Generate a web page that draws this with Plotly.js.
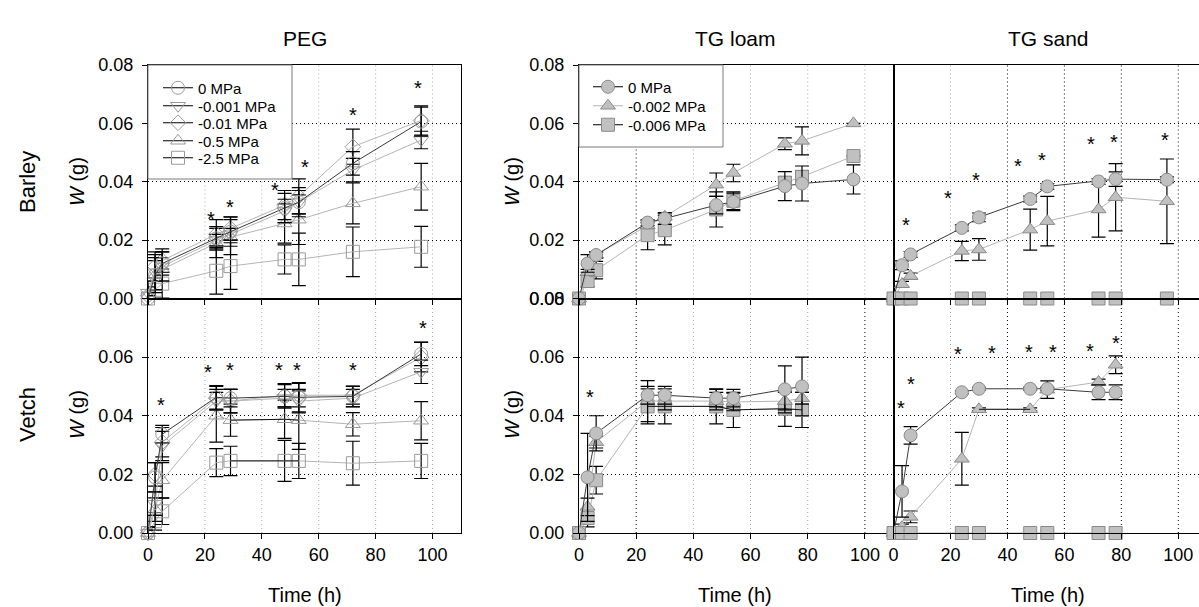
<!DOCTYPE html>
<html><head><meta charset="utf-8">
<script src="https://cdn.plot.ly/plotly-3.0.1.min.js"></script>
<style>html,body{margin:0;padding:0;background:#fff}#chart{width:1199px;height:607px}</style>
</head><body><div id="chart"></div>
<script>
// ---------- DATA ----------
const timePEG = [0, 2.5, 5, 24, 29, 48, 53, 72, 96];
const timeTG = [0, 3, 6, 24, 30, 48, 54, 72, 78, 96];
const timeTGv = [0, 3, 6, 24, 30, 48, 54, 72, 78];

const pegLabels = ['0 MPa', '-0.001 MPa', '-0.01 MPa', '-0.5 MPa', '-2.5 MPa'];
const tgLabels = ['0 MPa', '-0.002 MPa', '-0.006 MPa'];
const xTickVals = [0, 20, 40, 60, 80, 100];
const yTickVals = [0, 0.02, 0.04, 0.06, 0.08];
const yTickValsPEGv = [0, 0.02, 0.04, 0.06];

// PEG – Barley
const pegB0 = [0, 0.008, 0.012, 0.0206, 0.0229, 0.031, 0.033, 0.0463, 0.0606];
const pegB0e = [0.001, 0.006, 0.004, 0.004, 0.005, 0.005, 0.005, 0.004, 0.005];
const pegB001 = [0.002, 0.009, 0.011, 0.020, 0.022, 0.030, 0.033, 0.044, 0.0543];
const pegB001e = [0.004, 0.006, 0.005, 0.002, 0.002, 0.004, 0.004, 0.004, 0.003];
const pegB01 = [0.001, 0.011, 0.013, 0.022, 0.024, 0.032, 0.035, 0.052, 0.061];
const pegB01e = [0.002, 0.005, 0.004, 0.005, 0.004, 0.005, 0.006, 0.006, 0.005];
const pegB05 = [0.001, 0.008, 0.010, 0.019, 0.021, 0.0257, 0.027, 0.0326, 0.0383];
const pegB05e = [0.003, 0.005, 0.004, 0.005, 0.006, 0.0067, 0.0085, 0.007, 0.008];
const pegB25 = [0, 0.003, 0.0051, 0.0095, 0.0111, 0.0134, 0.0134, 0.016, 0.0177];
const pegB25e = [0.002, 0.004, 0.005, 0.008, 0.008, 0.005, 0.009, 0.0085, 0.007];
const pegBStarX = [22, 28.7, 44.7, 55, 72, 95];
const pegBStarY = [0.0291, 0.0331, 0.0389, 0.0469, 0.0646, 0.0737];

// PEG – Vetch
const pegV0 = [0, 0.019, 0.0337, 0.0463, 0.046, 0.0466, 0.0463, 0.0466, 0.0611];
const pegV0e = [0.001, 0.005, 0.003, 0.004, 0.003, 0.004, 0.005, 0.0035, 0.004];
const pegV001 = [0, 0.010, 0.0297, 0.045, 0.045, 0.046, 0.045, 0.046, 0.055];
const pegV001e = [0.002, 0.004, 0.005, 0.003, 0.004, 0.003, 0.004, 0.003, 0.004];
const pegV01 = [0, 0.020, 0.031, 0.046, 0.045, 0.047, 0.047, 0.047, 0.060];
const pegV01e = [0.002, 0.004, 0.005, 0.004, 0.004, 0.004, 0.004, 0.003, 0.005];
const pegV05 = [0, 0.008, 0.018, 0.040, 0.0385, 0.0388, 0.0385, 0.0371, 0.0383];
const pegV05e = [0.002, 0.004, 0.006, 0.009, 0.0055, 0.0065, 0.010, 0.004, 0.0065];
const pegV25 = [0, 0.004, 0.0074, 0.024, 0.0246, 0.0246, 0.0246, 0.0238, 0.0246];
const pegV25e = [0.001, 0.003, 0.0045, 0.0048, 0.005, 0.007, 0.006, 0.0075, 0.006];
const pegVStarX = [4.4, 21, 28.7, 46.2, 52.3, 72.2, 96.5];
const pegVStarY = [0.0454, 0.0566, 0.0574, 0.0574, 0.0574, 0.0574, 0.0717];

// TG loam – Barley
const loamB0 = [0, 0.012, 0.0149, 0.026, 0.0274, 0.032, 0.0331, 0.0385, 0.0394, 0.0408];
const loamB0e = [0, 0.003, 0.001, 0.001, 0.002, 0.003, 0.003, 0.005, 0.006, 0.005];
const loamB2 = [0, 0.009, 0.015, 0.025, 0.028, 0.039, 0.043, 0.053, 0.054, 0.060];
const loamB2e = [0, 0.001, 0.001, 0.001, 0.001, 0.004, 0.003, 0.002, 0.0048, 0];
const loamB6 = [0, 0.006, 0.0097, 0.0217, 0.0234, 0.0305, 0.0335, 0.0397, 0.0417, 0.0488];
const loamB6e = [0, 0.002, 0.003, 0.005, 0.005, 0.006, 0.003, 0.002, 0.002, 0];

// TG loam – Vetch
const loamV0 = [0, 0.019, 0.034, 0.047, 0.047, 0.046, 0.046, 0.049, 0.050];
const loamV0e = [0, 0.015, 0.006, 0.003, 0.003, 0.003, 0.003, 0.008, 0.010];
const loamV2 = [0, 0.0089, 0.031, 0.045, 0.045, 0.045, 0.0447, 0.045, 0.046];
const loamV2e = [0, 0.003, 0.002, 0.007, 0.003, 0.003, 0.003, 0.003, 0.002];
const loamV6 = [0, 0.0051, 0.018, 0.0432, 0.0432, 0.0432, 0.042, 0.0424, 0.042];
const loamV6e = [0, 0.003, 0.0047, 0.006, 0.006, 0.006, 0.006, 0.006, 0.006];
const loamVStarX = [4];
const loamVStarY = [0.048];

// TG sand – Barley
const sandB0 = [0, 0.0114, 0.0151, 0.0242, 0.0278, 0.0341, 0.0384, 0.0401, 0.0409, 0.0407];
const sandB0e = [0, 0.0015, 0.001, 0.001, 0.0015, 0.001, 0.001, 0.001, 0.0025, 0.001];
const sandB2 = [0, 0.0049, 0.0077, 0.0163, 0.0168, 0.0236, 0.0265, 0.0305, 0.0347, 0.0333];
const sandB2e = [0, 0.001, 0.001, 0.0033, 0.0037, 0.007, 0.0085, 0.0095, 0.0115, 0.0145];
const sandB6 = [0, 0, 0, 0, 0, 0, 0, 0, 0, 0];
const sandBStarX = [4.4, 19, 29, 43.6, 52.3, 69.2, 77.3, 95.3];
const sandBStarY = [0.0268, 0.0361, 0.0422, 0.047, 0.0492, 0.0545, 0.0555, 0.056];

// TG sand – Vetch
const sandV0 = [0, 0.0142, 0.0333, 0.048, 0.0492, 0.0492, 0.0492, 0.048, 0.048];
const sandV0e = [0, 0.0088, 0.003, 0.0005, 0.0005, 0.0005, 0.0005, 0.0025, 0.0025];
const sandV2 = [0, 0.002, 0.0055, 0.0253, 0.0422, 0.0422, 0.0489, 0.0515, 0.0574];
const sandV2e = [0, 0.001, 0.002, 0.009, 0.0005, 0.0005, 0.003, 0.001, 0.003];
const sandV6 = [0, 0, 0, 0, 0, 0, 0, 0, 0];
const sandVStarX = [2.6, 6.1, 22.6, 34.6, 47.7, 55.9, 69.1, 78];
const sandVStarY = [0.0443, 0.0524, 0.0628, 0.063, 0.0634, 0.0634, 0.0637, 0.0665];

// ---------- STYLE / LAYOUT ----------
const W = 1199, H = 607;
const fx = p => p / W, fy = p => 1 - p / H;
const FONT = 'Liberation Sans, Arial, sans-serif';
const DARK = '#3a3a3a', LIGHT = '#b4b4b4', MK = '#9a9a9a', FILL = '#c0c0c0', MKL = '#8a8a8a';

const domPEG = [fx(148), fx(461)];
const domLoam = [fx(579), fx(893.5)];
const domSand = [fx(893.5), 1];
const domTop = [fy(298.5), fy(65)];
const domBot = [fy(533), fy(298.5)];
const sandMax = (1199 - 893.5) / 2.848;

const traces = [];
function err(e) { return {type: 'data', array: e, visible: true, color: '#000', thickness: 1.2, width: 7}; }
function openSeries(x, y, e, ax, sym, lc, size) {
  traces.push({x, y, xaxis: 'x' + ax, yaxis: 'y' + ax, mode: 'lines+markers', showlegend: false, cliponaxis: false,
    line: {color: lc, width: 1}, marker: {symbol: sym + '-open', size: size || 13, color: MK, line: {width: 1, color: MK}},
    error_y: err(e)});
}
function filledSeries(x, y, e, ax, sym, lc) {
  traces.push({x, y, xaxis: 'x' + ax, yaxis: 'y' + ax, mode: 'lines+markers', showlegend: false, cliponaxis: false,
    line: {color: lc, width: 1}, marker: {symbol: sym, size: 13, color: FILL, line: {width: 1, color: MKL}},
    error_y: e ? err(e) : undefined});
}
function segment(x, y, ax, a, b) {
  traces.push({x: x.slice(a, b), y: y.slice(a, b), xaxis: 'x' + ax, yaxis: 'y' + ax, mode: 'lines', showlegend: false,
    line: {color: '#111', width: 1}, hoverinfo: 'skip'});
}

// PEG barley (axis '' -> x/y)
openSeries(timePEG, pegB25, pegB25e, '', 'square', LIGHT);
openSeries(timePEG, pegB05, pegB05e, '', 'triangle-up', LIGHT);
openSeries(timePEG, pegB01, pegB01e, '', 'diamond', LIGHT, 12);
openSeries(timePEG, pegB001, pegB001e, '', 'triangle-down', LIGHT);
openSeries(timePEG, pegB0, pegB0e, '', 'circle', DARK);
// PEG vetch
openSeries(timePEG, pegV25, pegV25e, '2', 'square', LIGHT);
openSeries(timePEG, pegV05, pegV05e, '2', 'triangle-up', LIGHT);
openSeries(timePEG, pegV01, pegV01e, '2', 'diamond', LIGHT, 12);
openSeries(timePEG, pegV001, pegV001e, '2', 'triangle-down', LIGHT);
openSeries(timePEG, pegV0, pegV0e, '2', 'circle', DARK);
segment(timePEG, pegV05, '2', 4, 7);
segment(timePEG, pegV25, '2', 4, 7);
// loam barley
filledSeries(timeTG, loamB6, loamB6e, '3', 'square', LIGHT);
filledSeries(timeTG, loamB2, loamB2e, '3', 'triangle-up', LIGHT);
filledSeries(timeTG, loamB0, loamB0e, '3', 'circle', DARK);
// loam vetch
filledSeries(timeTGv, loamV6, loamV6e, '4', 'square', LIGHT);
segment(timeTGv, loamV6, '4', 3, 9);
filledSeries(timeTGv, loamV2, loamV2e, '4', 'triangle-up', LIGHT);
filledSeries(timeTGv, loamV0, loamV0e, '4', 'circle', DARK);
// sand barley
filledSeries(timeTG, sandB2, sandB2e, '5', 'triangle-up', LIGHT);
filledSeries(timeTG, sandB0, sandB0e, '5', 'circle', DARK);
filledSeries(timeTG, sandB6, null, '5', 'square', LIGHT);
// sand vetch
filledSeries(timeTGv, sandV2, sandV2e, '6', 'triangle-up', LIGHT);
segment(timeTGv, sandV2, '6', 4, 6);
filledSeries(timeTGv, sandV0, sandV0e, '6', 'circle', DARK);
filledSeries(timeTGv, sandV6, null, '6', 'square', LIGHT);

// legend entries: one small legend per row so rows can sit at the reference spacing
const legendLayouts = {};
const legendCommon = {xanchor: 'left', yanchor: 'middle', bgcolor: 'rgba(0,0,0,0)', borderwidth: 0,
  font: {size: 15, color: '#000', family: FONT}, itemwidth: 30, tracegroupgap: 0};
const pegSyms = ['circle-open', 'triangle-down-open', 'diamond-open', 'triangle-up-open', 'square-open'];
const pegRowY = [88, 106, 123, 141, 158];
let legN = 1;
function legendName() { const n = legN === 1 ? 'legend' : 'legend' + legN; legN++; return n; }
pegLabels.forEach((n, i) => {
  const lg = legendName();
  legendLayouts[lg] = Object.assign({x: fx(158), y: fy(pegRowY[i])}, legendCommon);
  traces.push({x: [null], y: [null], name: n, legend: lg, mode: 'lines+markers',
    line: {color: '#000', width: 1}, marker: {symbol: pegSyms[i], size: i === 2 ? 12 : 13, color: MK, line: {width: 1, color: MK}}});
});
const tgSyms = ['circle', 'triangle-up', 'square'];
const tgLine = ['#000', LIGHT, '#000'];
const tgRowY = [87, 106, 125];
tgLabels.forEach((n, i) => {
  const lg = legendName();
  legendLayouts[lg] = Object.assign({x: fx(588), y: fy(tgRowY[i])}, legendCommon);
  traces.push({x: [null], y: [null], name: n, legend: lg, mode: 'lines+markers',
    line: {color: tgLine[i], width: 1}, marker: {symbol: tgSyms[i], size: 13, color: FILL, line: {width: 1, color: MKL}}});
});

function xax(domain, range, anchor, labels) {
  return {domain, range, anchor, showline: true, linecolor: '#000', linewidth: 1, mirror: true,
    ticks: 'outside', ticklen: 5, tickcolor: '#000', tickvals: xTickVals, showticklabels: labels,
    tickfont: {size: 18, color: '#000', family: FONT}, showgrid: false, zeroline: false, fixedrange: true};
}
function yax(domain, anchor, tickvals, labels, mirror) {
  return {domain, range: [0, 0.08], anchor, showline: true, linecolor: '#000', linewidth: 1, mirror,
    ticks: labels ? 'outside' : '', ticklen: 5, tickcolor: '#000', tickvals, tickformat: '.2f',
    showticklabels: labels, tickfont: {size: 18, color: '#000', family: FONT}, ticklabelstandoff: 5,
    showgrid: true, gridcolor: '#000', griddash: '1px,3px', gridwidth: 1, zeroline: false, fixedrange: true};
}

// vertical dotted grid lines (colour per panel/position)
const gridPos = [20, 40, 60, 80, 100];
const gridCols = {
  '': ['g', 'g', 'g', 'g', 'g'], '2': ['g', 'g', 'g', 'g', 'g'],
  '3': ['k', 'g', 'g', 'g', 'g'], '4': ['k', 'g', 'g', 'g', 'k'],
  '5': ['g', 'k', 'k', 'k', 'k'], '6': ['g', 'k', 'k', 'k', 'k']
};
const shapes = [];
Object.keys(gridCols).forEach(ax => gridPos.forEach((v, i) => shapes.push({type: 'line', xref: 'x' + ax, yref: 'y' + ax + ' domain',
  x0: v, x1: v, y0: 0, y1: 1, layer: 'below', line: {color: gridCols[ax][i] === 'k' ? '#000' : '#a8a8a8', width: 1, dash: '1px,3px'}})));
// legend boxes
shapes.push({type: 'rect', xref: 'paper', yref: 'paper', x0: fx(148), x1: fx(292), y0: fy(179), y1: fy(65), layer: 'above',
  fillcolor: '#fff', line: {color: '#7a7a7a', width: 1}});
shapes.push({type: 'rect', xref: 'paper', yref: 'paper', x0: fx(579), x1: fx(723), y0: fy(147), y1: fy(65), layer: 'above',
  fillcolor: '#fff', line: {color: '#7a7a7a', width: 1}});

const ann = [];
function txt(x, y, text, size, angle) {
  ann.push({xref: 'paper', yref: 'paper', x: fx(x), y: fy(y), text, showarrow: false, textangle: angle || 0,
    xanchor: 'center', yanchor: 'middle', font: {size, color: '#000', family: FONT}});
}
txt(305, 38, 'PEG', 21); txt(735, 38, 'TG loam', 21); txt(1048, 38, 'TG sand', 21);
txt(305, 595, 'Time (h)', 20); txt(735, 595, 'Time (h)', 20); txt(1048, 595, 'Time (h)', 20);
txt(27, 182, 'Barley', 22, -90); txt(27, 415, 'Vetch', 22, -90);
[77, 512].forEach(x => { txt(x, 182, '<i>W</i> (g)', 20, -90); txt(x, 415, '<i>W</i> (g)', 20, -90); });
function stars(xs, ys, ax) {
  xs.forEach((x, i) => ann.push({xref: 'x' + ax, yref: 'y' + ax, x, y: ys[i], text: '*', showarrow: false, yshift: -5,
    font: {size: 20, color: '#000', family: FONT}}));
}
stars(pegBStarX, pegBStarY, ''); stars(pegVStarX, pegVStarY, '2'); stars(loamVStarX, loamVStarY, '4');
stars(sandBStarX, sandBStarY, '5'); stars(sandVStarX, sandVStarY, '6');

const layout = Object.assign({
  width: W, height: H, margin: {l: 0, r: 0, t: 0, b: 0, pad: 0},
  paper_bgcolor: '#fff', plot_bgcolor: 'rgba(0,0,0,0)', font: {family: FONT, color: '#000'},
  showlegend: true,
  xaxis: xax(domPEG, [0, 110], 'y', false), yaxis: yax(domTop, 'x', yTickVals, true, true),
  xaxis2: xax(domPEG, [0, 110], 'y2', true), yaxis2: yax(domBot, 'x2', yTickValsPEGv, true, true),
  xaxis3: xax(domLoam, [0, 110], 'y3', false), yaxis3: yax(domTop, 'x3', yTickVals, true, true),
  xaxis4: xax(domLoam, [0, 110], 'y4', true), yaxis4: yax(domBot, 'x4', yTickVals, true, true),
  xaxis5: xax(domSand, [0, sandMax], 'y5', false), yaxis5: yax(domTop, 'x5', yTickVals, false, false),
  xaxis6: xax(domSand, [0, sandMax], 'y6', true), yaxis6: yax(domBot, 'x6', yTickVals, false, false),
  shapes, annotations: ann
}, legendLayouts);
Plotly.newPlot('chart', traces, layout, {displayModeBar: false, staticPlot: true});
</script></body></html>
